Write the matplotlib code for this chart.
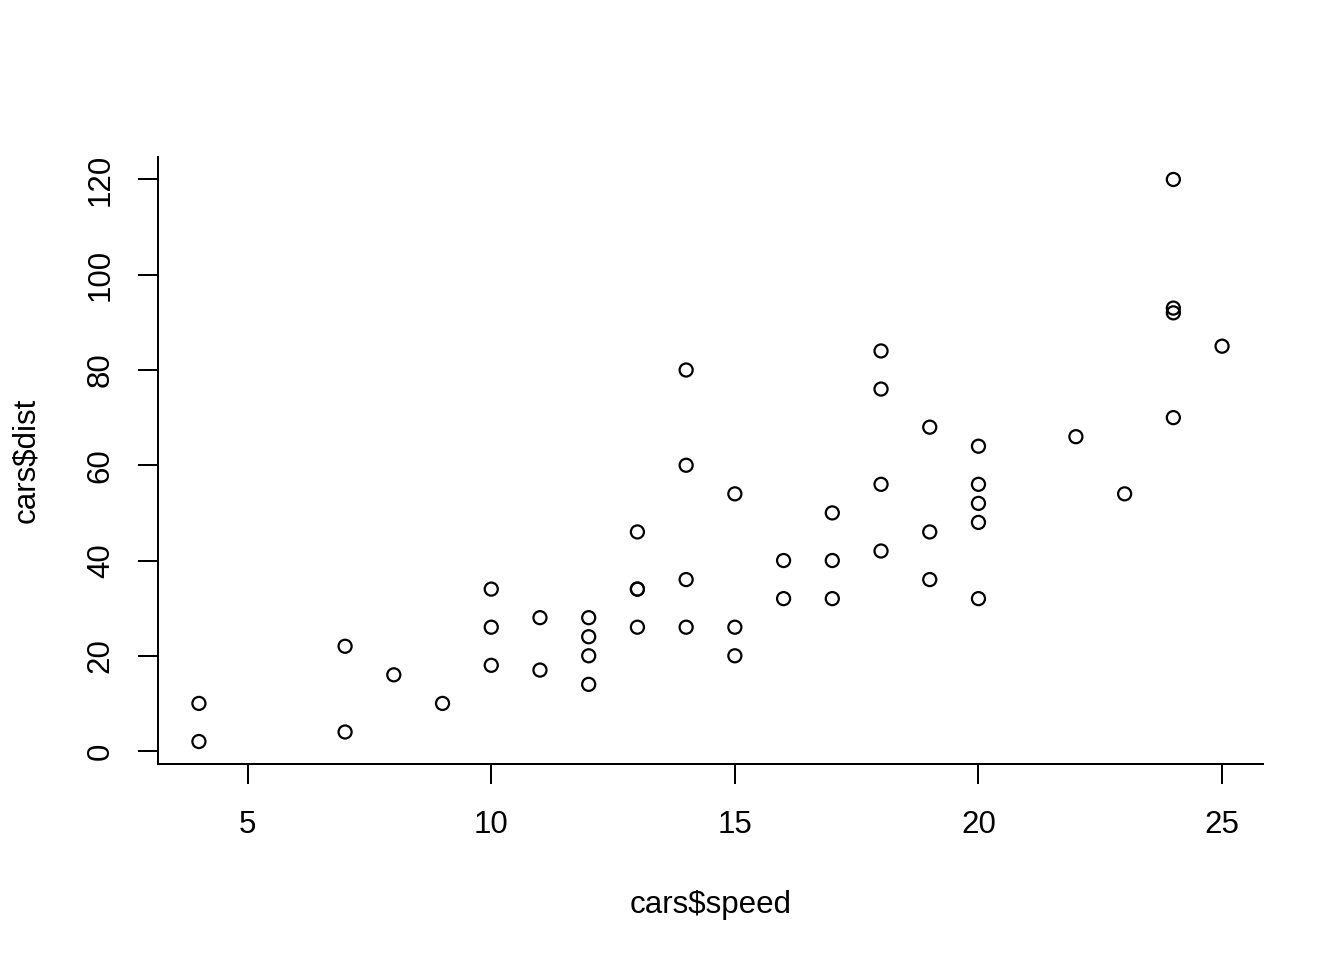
import matplotlib
matplotlib.use("Agg")
import matplotlib.pyplot as plt

speed = [4, 4, 7, 7, 8, 9, 10, 10, 10, 11, 11, 12, 12, 12, 12, 13, 13, 13, 13, 14,
         14, 14, 14, 15, 15, 15, 16, 16, 17, 17, 17, 18, 18, 18, 18, 19, 19, 19, 20, 20,
         20, 20, 20, 22, 23, 24, 24, 24, 24, 25]
dist = [2, 10, 4, 22, 16, 10, 18, 26, 34, 17, 28, 14, 20, 24, 28, 26, 34, 34, 46, 26,
        36, 60, 80, 20, 26, 54, 32, 40, 32, 40, 50, 42, 56, 76, 84, 36, 46, 68, 32, 48,
        52, 56, 64, 66, 54, 70, 92, 93, 120, 85]
xticks = [5, 10, 15, 20, 25]
yticks = [0, 20, 40, 60, 80, 100, 120]

plt.rcParams['font.family'] = ['Liberation Sans', 'DejaVu Sans']
W, H = 1344, 960
fig = plt.figure(figsize=(W / 100, H / 100), dpi=100)
ax = fig.add_axes([158 / W, (H - 764) / H, (1263 - 158) / W, (764 - 157) / H])

ax.scatter(speed, dist, s=(9.4) ** 2, facecolors='none', edgecolors='black', linewidths=1.6, zorder=3)

xr = max(speed) - min(speed)
yr = max(dist) - min(dist)
ax.set_xlim(min(speed) - 0.04 * xr, max(speed) + 0.04 * xr)
ax.set_ylim(min(dist) - 0.04 * yr, max(dist) + 0.04 * yr)

ax.set_xticks(xticks)
ax.set_yticks(yticks)
ax.set_yticklabels([str(v) for v in yticks], rotation=90, va='center')
ax.tick_params(axis='both', length=14.4, width=1.44, labelsize=22.5, direction='out')
ax.tick_params(axis='x', pad=19)
ax.tick_params(axis='y', pad=16)

for s in ['top', 'right']:
    ax.spines[s].set_visible(False)
for s in ['left', 'bottom']:
    ax.spines[s].set_linewidth(1.44)

ax.set_xlabel('cars$speed', fontsize=22.5, labelpad=36)
ax.set_ylabel('cars$dist', fontsize=22.5, labelpad=32)

fig.savefig('out.png', dpi=100)
